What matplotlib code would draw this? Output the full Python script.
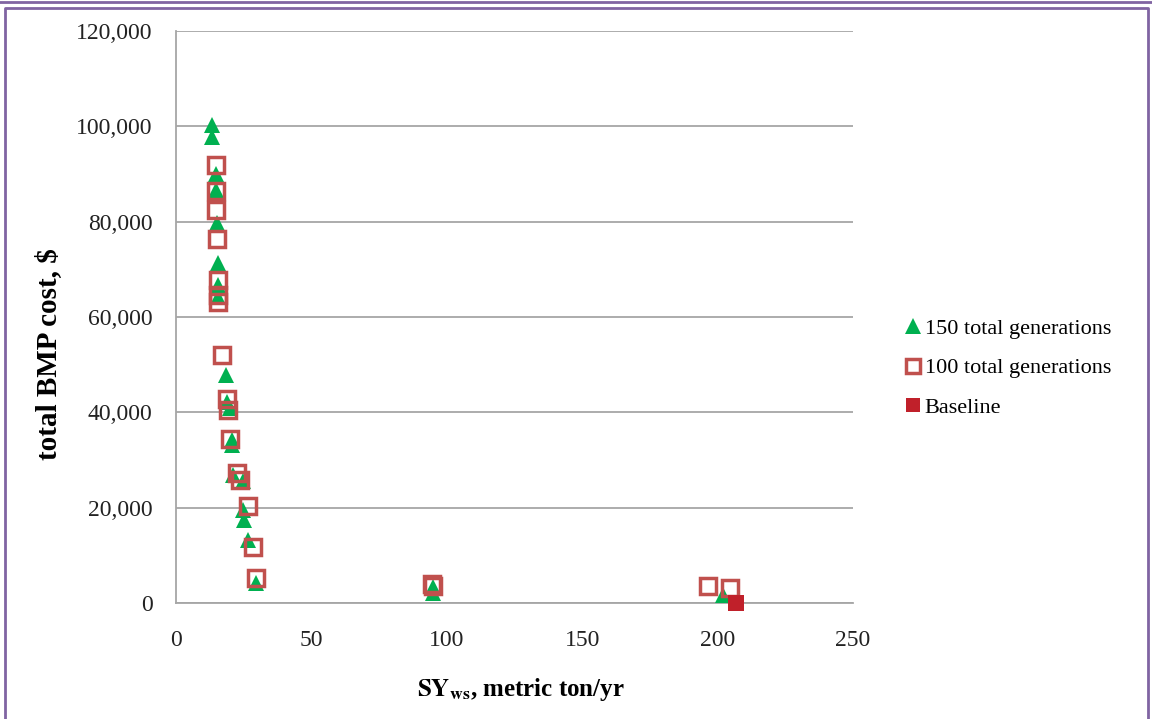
import numpy as np
import matplotlib.pyplot as plt
from matplotlib.ticker import FuncFormatter
from matplotlib.lines import Line2D

plt.rcParams['font.family'] = ['Liberation Serif', 'DejaVu Serif']
plt.rcParams['mathtext.fontset'] = 'stix'

# sediment yield (metric ton/yr) vs total BMP cost ($)
sy_150 = [13.4, 13.4, 14.7, 14.7, 15.0, 15.4, 15.6, 15.6, 18.5, 18.7, 19.9, 20.6, 20.6,
          21.2, 24.9, 24.9, 25.2, 26.7, 29.5, 95.0, 95.0, 202.1]
cost_150 = [100300, 97800, 90000, 86700, 79700, 71400, 66700, 64300, 47800, 42200, 40900,
            34200, 33200, 26900, 25500, 19500, 17400, 13200, 4100, 3400, 2000, 1700]

sy_100 = [14.7, 14.7, 14.7, 15.0, 15.6, 15.6, 15.6, 16.9, 18.9, 19.3, 19.9, 22.6, 23.6,
          26.7, 28.5, 29.4, 94.5, 95.0, 196.6, 204.6]
cost_100 = [91900, 86500, 82400, 76300, 67700, 64600, 63200, 52000, 42900, 40500, 34500,
            27300, 25900, 20300, 11800, 5200, 4000, 3600, 3600, 3200]

sy_base = [206.8]
cost_base = [0]

green = '#00B050'
rose = '#C0504D'
red = '#C0202A'

fig = plt.figure(figsize=(11.52, 7.19), dpi=100)
ax = fig.add_axes([0.1528, 0.1613, 0.5877, 0.7956])

ax.plot(sy_150, cost_150, linestyle='none', marker='^', markersize=11,
        color=green, markeredgewidth=0, label='150 total generations', zorder=3)
ax.plot(sy_100, cost_100, linestyle='none', marker='s', markersize=11,
        markerfacecolor='none', markeredgecolor=rose, markeredgewidth=2.5,
        label='100 total generations', zorder=4)
ax.plot(sy_base, cost_base, linestyle='none', marker='s', markersize=11,
        color=red, markeredgewidth=0, label='Baseline', zorder=5, clip_on=False)

ax.set_xlim(0, 250)
ax.set_ylim(0, 120000)
ax.set_xticks(np.arange(0, 251, 50))
ax.set_yticks(np.arange(0, 120001, 20000))
ax.yaxis.set_major_formatter(FuncFormatter(lambda v, p: f'{int(v):,}'))
ax.tick_params(length=0, labelsize=17, colors='#222222')
ax.tick_params(axis='y', pad=17)
ax.tick_params(axis='x', pad=19.5)

ax.grid(axis='y', color='#A6A6A6', linewidth=1.3)
ax.set_axisbelow(True)
for s in ['top', 'right']:
    ax.spines[s].set_visible(False)
for s in ['left', 'bottom']:
    ax.spines[s].set_color('#A6A6A6')
    ax.spines[s].set_linewidth(1.3)

ax.set_ylabel('total BMP cost, $', fontsize=21, fontweight='bold')
ax.yaxis.set_label_coords(-0.168, 0.435)
ax.set_xlabel(r'$\mathbf{SY_{ws}}$, metric ton/yr', fontsize=18, fontweight='bold')
ax.xaxis.set_label_coords(0.51, -0.128)

handles = [
    Line2D([], [], linestyle='none', marker='^', markersize=11, color=green, markeredgewidth=0),
    Line2D([], [], linestyle='none', marker='s', markersize=10, markerfacecolor='none',
           markeredgecolor=rose, markeredgewidth=2.5),
    Line2D([], [], linestyle='none', marker='s', markersize=10, color=red, markeredgewidth=0),
]
fig.legend(handles, ['150 total generations', '100 total generations', 'Baseline'],
           loc='upper left', bbox_to_anchor=(0.769, 0.585), frameon=False,
           fontsize=16, handlelength=0.6, handletextpad=0.25, labelspacing=0.85)

# purple frame around the figure
purple = '#8064A2'
fig.add_artist(Line2D([0, 1], [0.997, 0.997], color=purple, linewidth=2, transform=fig.transFigure))
fig.add_artist(Line2D([0.0045, 0.0045, 0.9965, 0.9965], [0, 0.989, 0.989, 0],
                      color=purple, linewidth=2, transform=fig.transFigure))

fig.savefig('out.png', dpi=100)
